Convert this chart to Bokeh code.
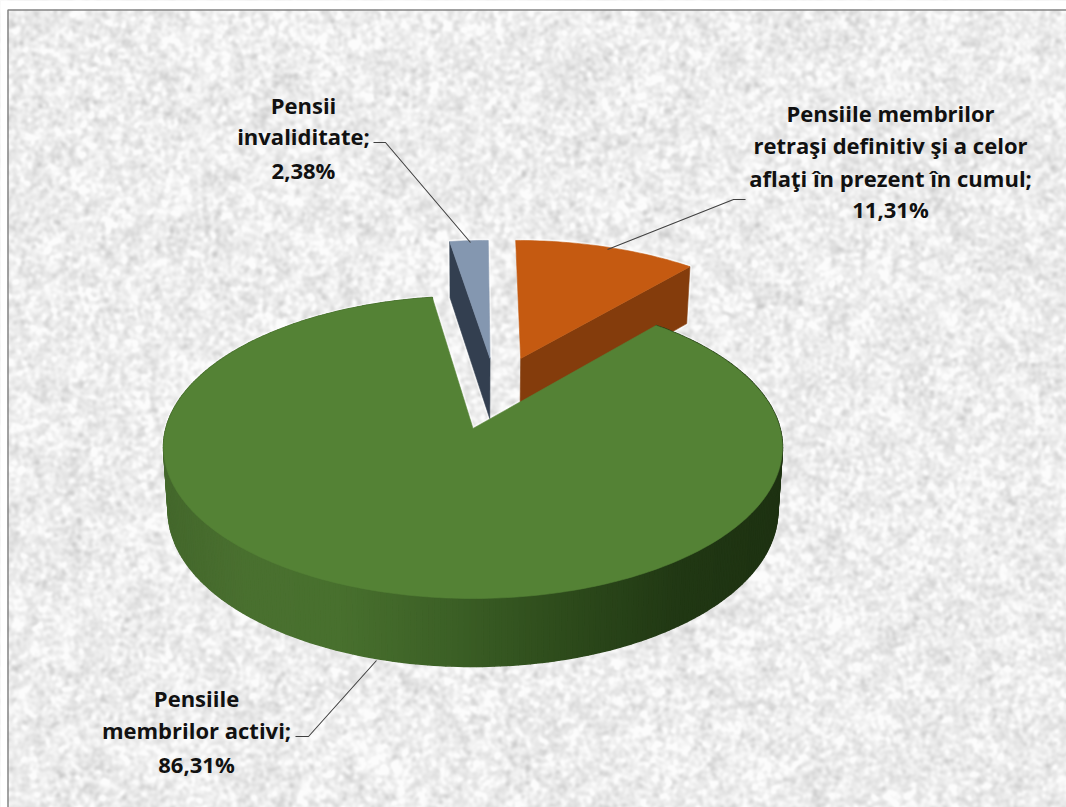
import numpy as np
from bokeh.plotting import figure
from bokeh.models import Range1d
from bokeh.core.properties import value
from bokeh.embed import file_html
from bokeh.resources import INLINE

# ---- data ----
categories = ["Pensiile membrilor retraşi definitiv şi a celor aflaţi în prezent în cumul",
              "Pensiile membrilor activi", "Pensii invaliditate"]
shares = [11.31, 86.31, 2.38]
percent_labels = ["11,31%", "86,31%", "2,38%"]
label_lines = [
    ["Pensiile membrilor", "retraşi definitiv şi a celor", "aflaţi în prezent în cumul;", percent_labels[0]],
    ["Pensiile", "membrilor activi;", percent_labels[1]],
    ["Pensii", "invaliditate;", percent_labels[2]],
]
top_colors = ["#C55A11", "#548235", "#8497B0"]
side_colors = ["#843C0C", "#3B5F24", "#333F50"]

# ---- layout ----
W, H = 1066, 807
CX, CY = 472.5, 428.0        # projected apex of the main slice
RX, RY, KT = 307.0, 148.8, 0.1246   # top-plane perspective
DEPTH, KB, XSHRINK = 62.6, 0.079, 0.985
offsets = [(0.165, 0.50), (0.0, 0.0), (0.059, 0.50)]   # explosion of each slice, disc units
label_centres = [(890, [112, 144, 177, 208]), (196, [697, 729, 763]), (303, [104, 135, 169])]
leaders = [([745, 733, 607], [199, 199, 249]),
           ([295, 308, 376], [736, 736, 660]),
           ([373, 385, 470], [142, 142, 242])]
wall_stops_x = [163, 240, 340, 450, 560, 680, 783]
wall_stops_c = [(68, 104, 44), (74, 112, 48), (72, 112, 46), (60, 96, 38), (46, 76, 28), (33, 56, 20), (30, 50, 18)]

def sy(py):
    return H - np.asarray(py, dtype=float)

def top_pt(u, v):
    d = 1 + KT * v
    return CX + RX * u / d, CY - RY * v / d

def bot_pt(u, v):
    x, y = top_pt(u, v)
    return CX + (x - CX) * XSHRINK, y + DEPTH / (1 + KB * v)

p = figure(width=W, height=H, x_range=Range1d(0, W), y_range=Range1d(0, H),
           toolbar_location=None, output_backend="svg", min_border=0,
           background_fill_color="#F0F0F0", border_fill_color="#F0F0F0")
p.axis.visible = False
p.grid.visible = False
p.outline_line_color = None

# ---- paper texture of the chart area ----
rng = np.random.default_rng(7)
def blurred(sigma_x, sigma_y):
    n = rng.normal(size=(H, W))
    fy = np.fft.fftfreq(H)[:, None]
    fx = np.fft.rfftfreq(W)[None, :]
    g = np.exp(-2 * np.pi ** 2 * ((fx * sigma_x) ** 2 + (fy * sigma_y) ** 2))
    out = np.fft.irfft2(np.fft.rfft2(n) * g, s=(H, W))
    return out / out.std()
tex = 238 + 8.0 * blurred(1.8, 1.8) + 2.5 * blurred(8, 8)
tex = np.clip(tex, 195, 252).astype(np.uint32)
img = (255 << 24) | (tex << 16) | (tex << 8) | tex
p.image_rgba(image=[img.astype(np.uint32)], x=0, y=0, dw=W, dh=H)

# ---- frame: white page strip left and above, grey rule on the chart edge ----
p.quad(left=0, right=W, bottom=sy(9), top=sy(0), fill_color="white", line_color=None)
p.quad(left=0, right=7, bottom=0, top=H, fill_color="white", line_color=None)
p.line([7.5, 7.5, W], sy([H, 9.5, 9.5]), line_color="#858585", line_width=1.5)

# ---- slices ----
starts = np.cumsum([0] + shares[:-1]) * 3.6
ends = np.cumsum(shares) * 3.6

def rim(i, n):
    th = np.radians(np.linspace(starts[i], ends[i], n))
    ou, ov = offsets[i]
    return np.sin(th) + ou, np.cos(th) + ov

def geometry(i):
    n = max(8, int(ends[i] - starts[i]))
    u, v = rim(i, n)
    ou, ov = offsets[i]
    return n, top_pt(ou, ov), bot_pt(ou, ov), top_pt(u, v), bot_pt(u, v)

def draw_halo(i):
    n, (ax, ay), (bx, by), (tx, ty), (ux, uy) = geometry(i)
    xs, ys = [ax] + list(tx) + [ax], [ay] + list(ty) + [ay]
    if i == 0:
        xs, ys = list(tx) + [ux[-1], bx], list(ty) + [uy[-1], by]
    elif i == 2:
        xs, ys = [bx, ux[0]] + list(tx) + [ax], [by, uy[0]] + list(ty) + [ay]
    p.line(xs, sy(ys), line_color="white", line_width=4, line_alpha=0.55)

def draw_slice(i):
    n, (ax, ay), (bx, by), (tx, ty), (ux, uy) = geometry(i)
    if i == 1:
        qx, qy, qc = [], [], []
        for j in range(n - 1):
            mid = 0.5 * (tx[j] + tx[j + 1])
            c = [np.interp(mid, wall_stops_x, [s[k] for s in wall_stops_c]) for k in range(3)]
            qx.append([tx[j], tx[j + 1], ux[j + 1], ux[j]])
            qy.append(list(sy([ty[j], ty[j + 1], uy[j + 1], uy[j]])))
            qc.append("#%02x%02x%02x" % tuple(int(x) for x in c))
        p.patches(qx, qy, fill_color=qc, line_color=qc, line_width=1.6)
    else:
        e = -1 if i == 0 else 0   # the radial face that turns to the viewer
        p.patch([ax, tx[e], ux[e], bx], sy([ay, ty[e], uy[e], by]),
                fill_color=side_colors[i], line_color=side_colors[i], line_width=0.6)
    p.patch([ax] + list(tx), sy([ay] + list(ty)), fill_color=top_colors[i], line_color=top_colors[i], line_width=0.6)

for idx in (2, 0, 1):
    draw_halo(idx)
for idx in (2, 0, 1):
    draw_slice(idx)

# ---- leaders ----
for lx, ly in leaders:
    p.line(lx, sy(ly), line_color="#404040", line_width=1.1)

# ---- labels ----
for lines, (cx, ys) in zip(label_lines, label_centres):
    p.text(x=[cx] * len(lines), y=sy(ys), text=lines, text_align="center", text_baseline="middle",
           text_font=value("Open Sans"), text_font_style="bold", text_font_size="22px", text_color="#111111")

open("out.html", "w").write(file_html(p, INLINE))
